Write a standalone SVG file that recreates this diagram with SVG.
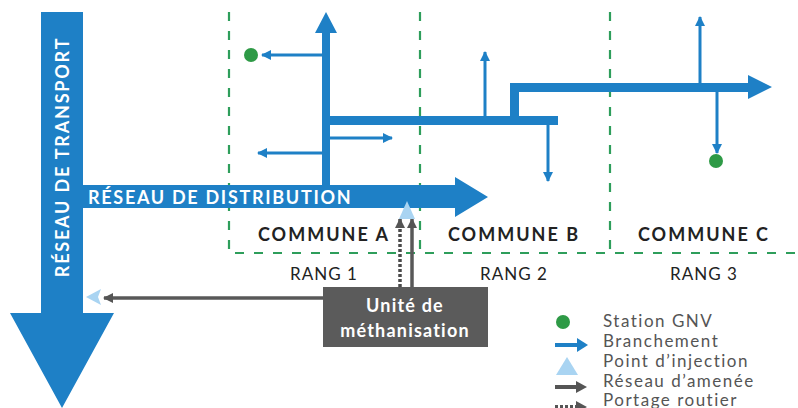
<svg xmlns="http://www.w3.org/2000/svg" width="798" height="408" viewBox="0 0 798 408">
<defs>
<style>
.blue{fill:#1e80c6}
.thin{stroke:#1e80c6;stroke-width:3;fill:none}
.gray{stroke:#585858;stroke-width:3.5;fill:none}
.dash{stroke:#4a4a4a;stroke-width:3.5;fill:none;stroke-dasharray:3 2}
.zone{stroke:#2e9e5b;stroke-width:2.2;fill:none;stroke-dasharray:9 10}
.inj{fill:#a9d4f2}
.dot{fill:#2e9a46}
.wt{font-family:Lato,"Open Sans",sans-serif;font-weight:bold;fill:#fff}
.lbl{font-family:Lato,"Open Sans",sans-serif;font-weight:bold;font-size:18px;fill:#222;text-anchor:middle;letter-spacing:2px}
.rang{font-family:Lato,"Open Sans",sans-serif;font-size:17px;fill:#222;text-anchor:middle;letter-spacing:1px}
.leg{font-family:Lato,"Open Sans",sans-serif;font-size:17px;fill:#555;letter-spacing:1.5px}
</style>
<marker id="bh" viewBox="0 0 10 10" refX="9" refY="5" markerWidth="10" markerHeight="10" markerUnits="userSpaceOnUse" orient="auto"><path d="M0,0 L10,5 L0,10 Z" fill="#1e80c6"/></marker>
<marker id="gh" viewBox="0 0 10 10" refX="9" refY="5" markerWidth="10" markerHeight="10" markerUnits="userSpaceOnUse" orient="auto"><path d="M0,0 L10,5 L0,10 Z" fill="#555"/></marker>
</defs>

<g id="zones">
<path class="zone" d="M229,12 V253 H798"/>
<path class="zone" d="M420,12 V253"/>
<path class="zone" d="M610,12 V253"/>
</g>

<g id="transport">
<path class="blue" d="M41,12 H83 V313 H114 L62,408 L10,313 H41 Z"/>
<text class="wt" font-size="18" letter-spacing="1.8" text-anchor="middle" transform="translate(68.5,157) rotate(-90)">RÉSEAU DE TRANSPORT</text>
</g>

<g id="distribution">
<path class="blue" d="M83,185 H455 V177 L488,197 L455,217 V208 H83 Z"/>
<text class="wt" x="88" y="204" font-size="18" letter-spacing="1.7">RÉSEAU DE DISTRIBUTION</text>
</g>

<g id="tree">
<path class="blue" d="M322,185 V33 H315 L326,12 L337,33 H330 V116 H558 V125 H330 V185 Z"/>
<path class="blue" d="M510,116 V83 H748 V75 L772,87 L748,99 V92 H519 V116 Z"/>
</g>

<g id="connectors">
<line class="thin" x1="322" y1="55" x2="262" y2="55" marker-end="url(#bh)"/>
<line class="thin" x1="330" y1="138" x2="392" y2="138" marker-end="url(#bh)"/>
<line class="thin" x1="322" y1="153" x2="258" y2="153" marker-end="url(#bh)"/>
<line class="thin" x1="485" y1="116" x2="485" y2="52" marker-end="url(#bh)"/>
<line class="thin" x1="548" y1="125" x2="548" y2="181" marker-end="url(#bh)"/>
<line class="thin" x1="700" y1="83" x2="700" y2="17" marker-end="url(#bh)"/>
<line class="thin" x1="717" y1="92" x2="717" y2="153" marker-end="url(#bh)"/>
<line class="gray" x1="323" y1="298" x2="104" y2="298" marker-end="url(#gh)"/>
<line class="gray" x1="412" y1="287" x2="412" y2="219" marker-end="url(#gh)"/>
<line class="dash" x1="400" y1="287" x2="400" y2="219" marker-end="url(#gh)"/>
</g>

<g id="station-a"><circle class="dot" cx="251" cy="55" r="7"/></g>
<g id="station-c"><circle class="dot" cx="716" cy="161" r="7"/></g>

<g id="injection-a"><path class="inj" d="M407,201 L415,219 L399,219 Z"/></g>
<g id="injection-t"><path class="inj" d="M86,297 L101,289 L98,297 L101,305 Z"/></g>

<g id="communes">
<text class="lbl" x="324" y="241">COMMUNE A</text>
<text class="lbl" x="514" y="241">COMMUNE B</text>
<text class="lbl" x="704" y="241">COMMUNE C</text>
<text class="rang" x="324" y="280">RANG 1</text>
<text class="rang" x="514" y="280">RANG 2</text>
<text class="rang" x="704" y="280">RANG 3</text>
</g>

<g id="unite">
<rect x="323" y="287" width="165" height="60" fill="#5b5b5b"/>
<text class="wt" x="405" y="312" font-size="18" text-anchor="middle" letter-spacing="1.2">Unité de</text>
<text class="wt" x="405" y="337" font-size="18" text-anchor="middle" letter-spacing="1.2">méthanisation</text>
</g>

<g id="legend">
<circle class="dot" cx="563" cy="322" r="7"/>
<line x1="555" y1="345" x2="580" y2="345" stroke="#1e80c6" stroke-width="4"/>
<path d="M577,338 L588,345 L577,352 Z" fill="#1e80c6"/>
<path class="inj" d="M567,357 L578,375 L556,375 Z"/>
<line x1="555" y1="387" x2="578" y2="387" stroke="#555" stroke-width="4"/>
<path d="M576,381 L587,387 L576,393 Z" fill="#555"/>
<line x1="555" y1="407" x2="578" y2="407" stroke="#555" stroke-width="4" stroke-dasharray="3 2"/>
<path d="M576,401 L587,407 L576,413 Z" fill="#555"/>
<text class="leg" x="603" y="327">Station GNV</text>
<text class="leg" x="603" y="347">Branchement</text>
<text class="leg" x="603" y="367">Point d’injection</text>
<text class="leg" x="603" y="387">Réseau d’amenée</text>
<text class="leg" x="603" y="406">Portage routier</text>
</g>
</svg>
